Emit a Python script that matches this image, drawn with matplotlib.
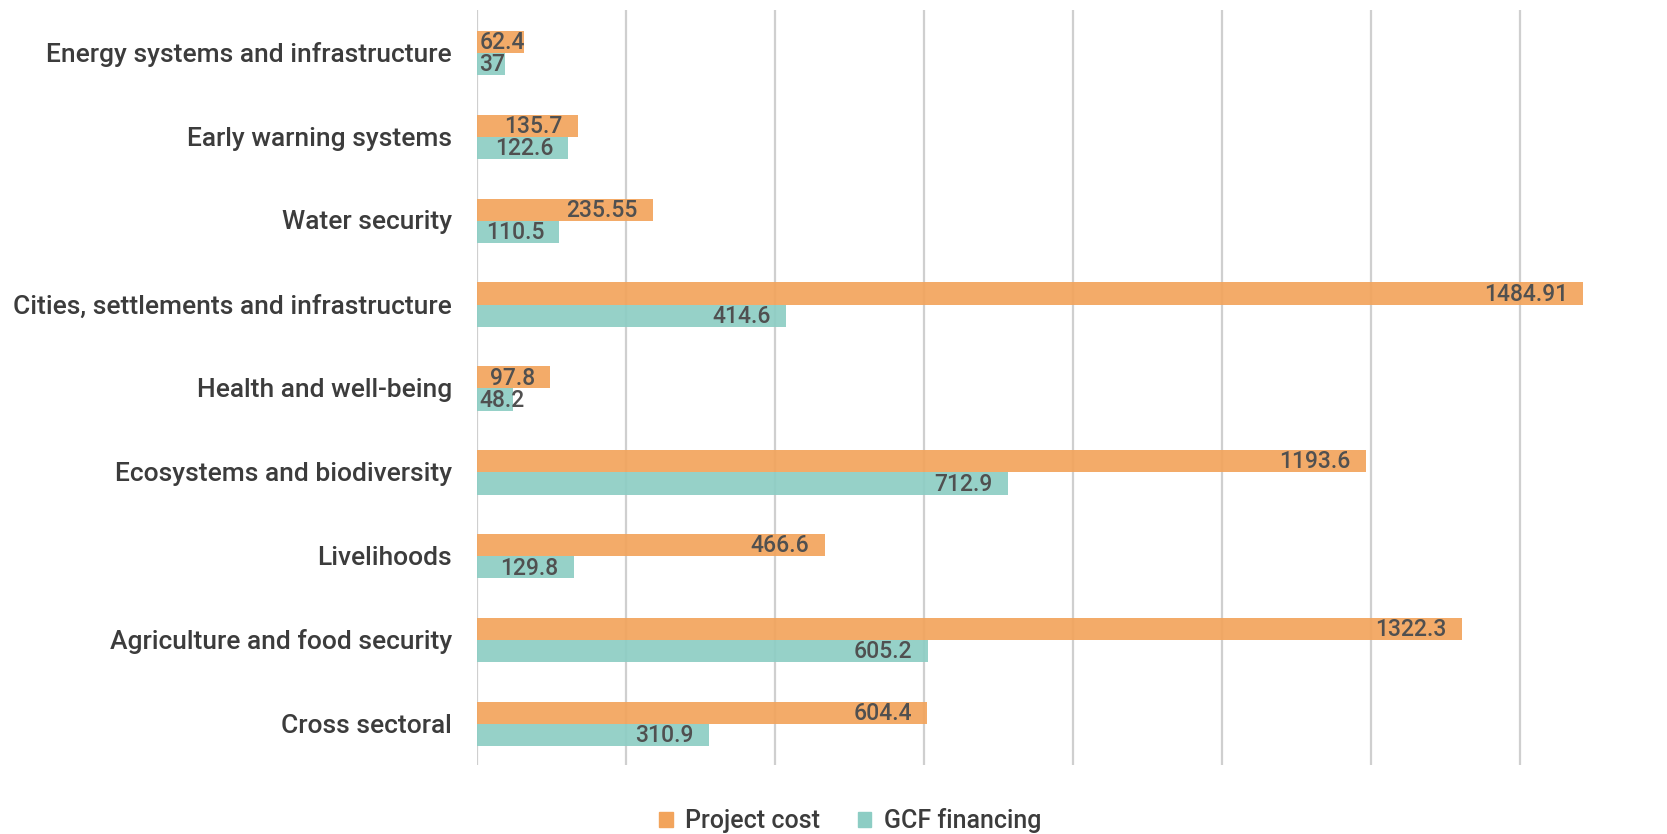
import matplotlib.pyplot as plt
from matplotlib.patches import Patch

# data (top to bottom as shown)
categories = [
    'Energy systems and infrastructure',
    'Early warning systems',
    'Water security',
    'Cities, settlements and infrastructure',
    'Health and well-being',
    'Ecosystems and biodiversity',
    'Livelihoods',
    'Agriculture and food security',
    'Cross sectoral',
]
project_cost = [62.4, 135.7, 235.55, 1484.91, 97.8, 1193.6, 466.6, 1322.3, 604.4]
gcf_financing = [37, 122.6, 110.5, 414.6, 48.2, 712.9, 129.8, 605.2, 310.9]
cost_labels = ['62.4', '135.7', '235.55', '1484.91', '97.8', '1193.6', '466.6', '1322.3', '604.4']
gcf_labels = ['37', '122.6', '110.5', '414.6', '48.2', '712.9', '129.8', '605.2', '310.9']

ORANGE = '#F2A45C'
TEAL = '#8DCDC4'
TEXT = '#3C3C3C'
VAL = '#505050'

plt.rcParams['font.family'] = ['Roboto', 'DejaVu Sans']

fig = plt.figure(figsize=(16.67, 8.34), dpi=100)
ax = fig.add_axes([0.2862, 0.0827, 0.7150, 0.905])

h = 0.265
ys = list(range(len(categories)))
b1 = ax.barh([y - h / 2 + 0.01 for y in ys], project_cost, height=h, color=ORANGE, alpha=0.92, zorder=2)
b2 = ax.barh([y + h / 2 + 0.01 for y in ys], gcf_financing, height=h, color=TEAL, alpha=0.92, zorder=2)

ax.set_xlim(0, 1600)
ax.set_ylim(len(categories) - 0.5, -0.5)
ax.set_xticks(range(0, 1601, 200))
ax.set_xticklabels([])
ax.set_yticks(ys)
ax.set_yticklabels(categories, fontsize=19, color=TEXT, fontweight='medium')
ax.tick_params(axis='both', length=0)
ax.tick_params(axis='y', pad=18)
ax.grid(axis='x', color='#CFCFCF', linewidth=1.6, zorder=0)
for s in ax.spines.values():
    s.set_visible(False)

# value labels: inside end, pushed out to the base when the bar is too short
texts = []
for bars, labels in ((b1, cost_labels), (b2, gcf_labels)):
    for bar, lab in zip(bars, labels):
        t = ax.annotate(lab, (bar.get_width(), bar.get_y() + bar.get_height() / 2),
                        xytext=(-11, -0.5), textcoords='offset points',
                        ha='right', va='center', fontsize=16.5, color=VAL,
                        fontweight='medium', zorder=3)
        texts.append(t)

fig.canvas.draw()
r = fig.canvas.get_renderer()
x0 = ax.transData.transform((0, 0))[0]
for t in texts:
    bb = t.get_window_extent(r)
    if bb.x0 < x0 + 2:
        t.set_ha('left')
        t.xy = (0, t.xy[1])
        t.set_position((1.5, -0.5))

handles = [Patch(color=ORANGE, label='Project cost'), Patch(color=TEAL, label='GCF financing')]
fig.legend(handles=handles, loc='center', bbox_to_anchor=(0.51, 0.016), ncol=2,
           frameon=False, labelcolor=TEXT, handlelength=0.55, handleheight=0.55,
           handletextpad=0.5, columnspacing=1.5, prop={'weight': 'medium', 'size': 18})

fig.savefig('out.png', dpi=100)
